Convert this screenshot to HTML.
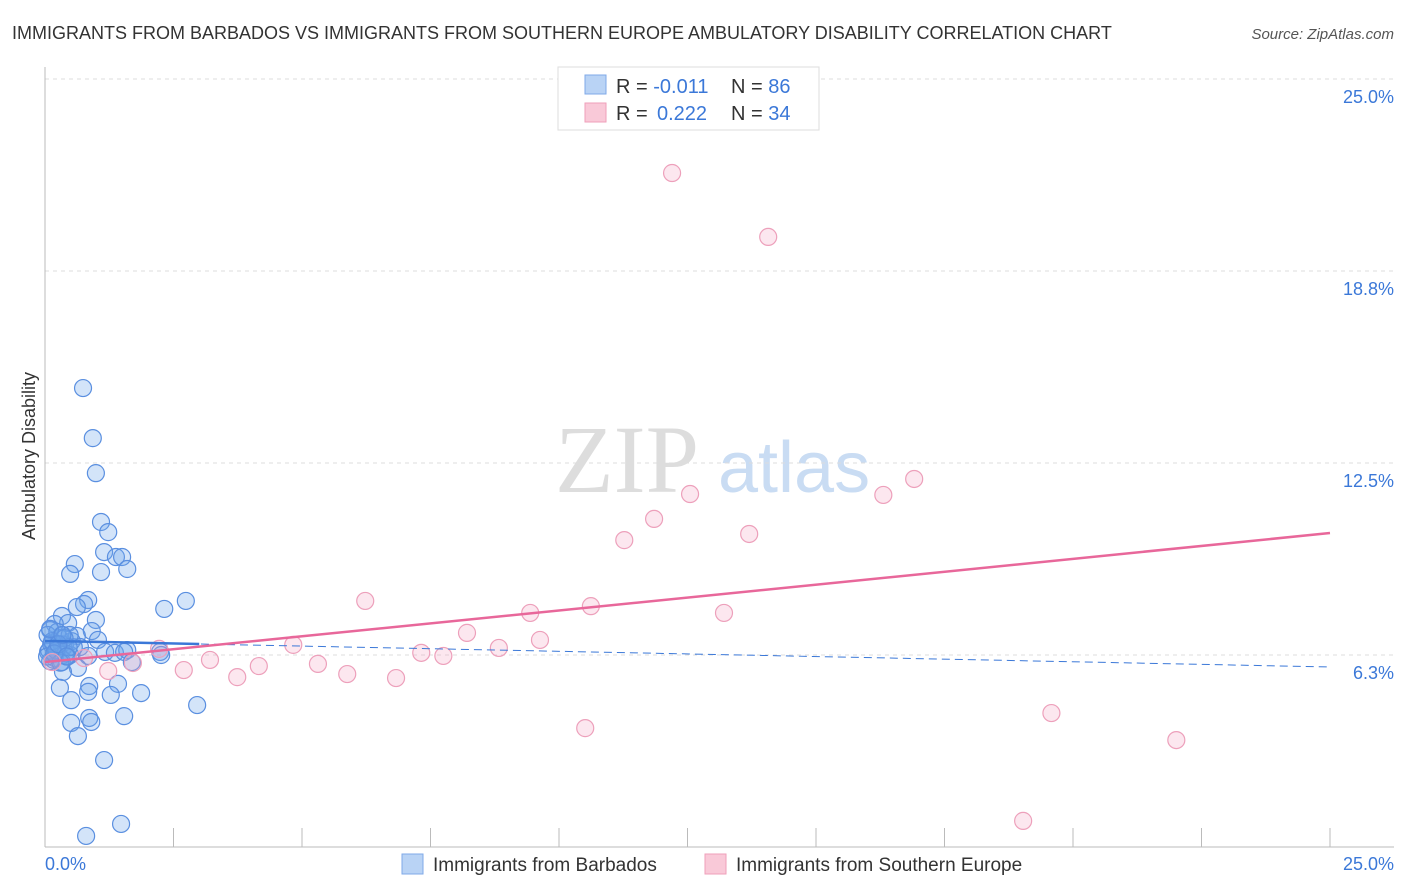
<!DOCTYPE html>
<html><head><meta charset="utf-8">
<style>
body{margin:0;background:#fff;font-family:"Liberation Sans",sans-serif;}
#wrap{position:relative;width:1406px;height:892px;overflow:hidden;}
</style></head>
<body>
<div id="wrap">
<svg id="svg" width="1406" height="892">
<text x="12" y="39" font-size="18" fill="#333">IMMIGRANTS FROM BARBADOS VS IMMIGRANTS FROM SOUTHERN EUROPE AMBULATORY DISABILITY CORRELATION CHART</text>
<text x="1394" y="39" font-size="15" fill="#555" font-style="italic" text-anchor="end">Source: ZipAtlas.com</text>
<text x="35" y="456" font-size="18" fill="#333" text-anchor="middle" transform="rotate(-90 35 456)">Ambulatory Disability</text>
<text x="555" y="492" font-size="96" fill="#ddd" font-family="Liberation Serif">ZIP</text>
<text x="718" y="492" font-size="72" fill="#c9dcf3">atlas</text>
<g id="grid"></g><g id="pts"></g><g id="lines"></g>
<g>
<rect x="558" y="67" width="261" height="63" fill="#fff" stroke="#ddd"/>
<rect x="585" y="75" width="21" height="19" fill="#b9d3f5" stroke="#7fa9e8"/>
<rect x="585" y="103" width="21" height="19" fill="#f9c9d8" stroke="#ef9fba"/>
<text x="616" y="93" font-size="20" fill="#333">R = <tspan fill="#3b78d8">-0.011</tspan><tspan x="731">N = </tspan><tspan fill="#3b78d8">86</tspan></text>
<text x="616" y="120" font-size="20" fill="#333">R = <tspan x="657" fill="#3b78d8">0.222</tspan><tspan x="731">N = </tspan><tspan fill="#3b78d8">34</tspan></text>
</g>
<g>
<rect x="402" y="854" width="21" height="20" fill="#b9d3f5" stroke="#7fa9e8"/>
<text x="433" y="871" font-size="19" fill="#333">Immigrants from Barbados</text>
<rect x="705" y="854" width="21" height="20" fill="#f9c9d8" stroke="#ef9fba"/>
<text x="736" y="871" font-size="19" fill="#333">Immigrants from Southern Europe</text>
</g>
<text x="45" y="870" font-size="18" fill="#3b78d8">0.0%</text>
<text x="1394" y="870" font-size="18" fill="#3b78d8" text-anchor="end">25.0%</text>
</svg></div>
<script>
const yTicks=[25.0,18.8,12.5,6.3];
const yTickVals=[25,18.75,12.5,6.25];
const blueX=[0.74,0.93,0.99,1.09,1.23,1.15,1.38,1.50,0.58,0.49,1.09,1.60,2.32,2.74,0.84,0.76,0.62,0.33,0.99,0.45,0.19,0.10,0.91,0.33,0.62,1.03,0.14,0.39,0.68,0.25,0.06,1.17,1.36,1.60,1.54,2.24,2.26,0.49,0.19,0.84,0.10,0.33,1.69,0.64,0.35,0.29,0.86,1.42,0.84,1.28,1.87,0.51,2.96,1.54,0.86,0.90,0.51,0.64,1.15,1.48,0.80,
0.05,0.12,0.2,0.28,0.36,0.44,0.52,0.08,0.16,0.24,0.32,0.40,0.48,0.56,0.04,0.14,0.22,0.30,0.38,0.46,0.10,0.18,0.26,0.34,0.42];
const blueY=[14.94,13.31,12.17,10.58,10.25,9.60,9.44,9.44,9.21,8.89,8.95,9.05,7.75,8.01,8.04,7.91,7.81,7.52,7.39,7.29,7.26,7.06,7.03,6.90,6.87,6.74,6.64,6.58,6.51,6.41,6.35,6.35,6.32,6.41,6.35,6.35,6.25,6.25,6.15,6.22,6.05,6.02,6.02,5.83,5.70,5.18,5.24,5.31,5.05,4.95,5.01,4.78,4.62,4.26,4.20,4.07,4.04,3.61,2.83,0.75,0.36,
6.9,6.6,6.3,6.8,6.5,6.2,6.7,6.4,6.1,7.0,6.6,6.3,6.9,6.5,6.2,6.7,6.4,6.0,6.8,6.5,7.1,6.3,6.6,6.9,6.2];
const pinkX=[12.20,14.07,16.91,12.55,16.31,11.85,13.70,11.27,6.23,10.62,9.44,13.21,8.21,9.63,4.83,8.83,7.32,7.75,2.22,0.76,3.21,1.71,5.31,4.16,2.70,1.23,5.88,3.74,6.83,19.58,10.51,22.01,19.03,0.14];
const pinkY=[21.94,19.86,11.98,11.49,11.46,10.68,10.19,9.99,8.01,7.84,7.62,7.62,6.97,6.74,6.58,6.48,6.32,6.22,6.45,6.15,6.09,5.99,5.96,5.89,5.76,5.73,5.63,5.53,5.50,4.36,3.87,3.48,0.85,6.02];
const blueLine=[6.71,5.86];   // y at x=0 and x=25
const pinkLine=[6.02,10.22];
const NS='http://www.w3.org/2000/svg';
const X=v=>45+v/25*1285, Y=v=>847-v/25*768;
function mk(t,a,p){const e=document.createElementNS(NS,t);for(const k in a)e.setAttribute(k,a[k]);p.appendChild(e);return e;}
const grid=document.getElementById('grid');
yTickVals.forEach((v,i)=>{
 const l=mk('line',{x1:45,x2:1394,y1:Y(v),y2:Y(v),stroke:'#ddd','stroke-dasharray':'4,4'},grid);
 
 
 const t=mk('text',{x:1394,y:Y(v)+24,'font-size':18,fill:'#3b78d8','text-anchor':'end'},grid);
 t.textContent=yTicks[i].toFixed(1)+'%';
 
 
});
const ax=mk('line',{x1:45,x2:45,y1:67,y2:847,stroke:'#bbb'},grid);


const bx=mk('line',{x1:45,x2:1394,y1:847,y2:847,stroke:'#bbb'},grid);


for(let i=1;i<=10;i++){const tk=mk('line',{x1:X(i*2.5),x2:X(i*2.5),y1:828,y2:847,stroke:'#bbb'},grid);
 
 }
const pts=document.getElementById('pts');
blueX.forEach((v,i)=>{const c=mk('circle',{cx:X(v),cy:Y(blueY[i]),r:8.5,fill:'rgba(110,165,235,0.3)',stroke:'#5a8fe0','stroke-width':1.2},pts);
 
 });
pinkX.forEach((v,i)=>{const c=mk('circle',{cx:X(v),cy:Y(pinkY[i]),r:8.5,fill:'rgba(245,160,190,0.25)',stroke:'#eda0bb','stroke-width':1.2},pts);
 
 });
const ln=document.getElementById('lines');
const bAt=x=>blueLine[0]+(blueLine[1]-blueLine[0])*x/25;
const l1=mk('line',{x1:X(0),y1:Y(bAt(0)),x2:X(25),y2:Y(bAt(25)),stroke:'#3b78d8','stroke-width':1,'stroke-dasharray':'8,5'},ln);


const l2=mk('line',{x1:X(0),y1:Y(bAt(0)),x2:X(3),y2:Y(bAt(3)),stroke:'#3b78d8','stroke-width':2.5},ln);


const l3=mk('line',{x1:X(0),y1:Y(pinkLine[0]),x2:X(25),y2:Y(pinkLine[1]),stroke:'#e8679a','stroke-width':2.5},ln);


</script>
</body></html>
